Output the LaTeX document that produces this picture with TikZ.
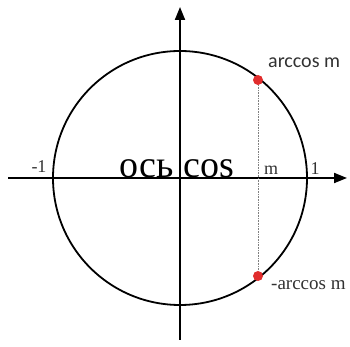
\documentclass[tikz,border=0pt]{standalone}
\usepackage{fontspec}
\setmainfont{Liberation Serif}
\newfontfamily\labsans{Carlito}
\usetikzlibrary{arrows.meta}
\definecolor{ptred}{RGB}{225,45,45}
\definecolor{labgray}{RGB}{50,50,50}
\begin{document}
\begin{tikzpicture}[x=1pt,y=1pt,
  axisline/.style={line width=1.9pt,-{Triangle[length=13pt,width=10pt]}},
  dotpt/.style={circle,fill=ptred,inner sep=0pt,minimum size=10pt},
  smalllab/.style={font=\fontsize{18}{18}\selectfont,inner sep=0pt,text=labgray}]
\useasboundingbox (0,0) rectangle (350,347);
\coordinate (O) at (180,169);
\coordinate (L) at (8,169);
\coordinate (R) at (347,169);
\coordinate (B) at (180,7);
\coordinate (T) at (180,340);
\draw[line width=1.8pt] (O) circle[radius=127];
\draw[axisline] (L) -- (R);
\draw[axisline] (B) -- (T);
\node[dotpt] (P) at (258,267) {};
\node[dotpt] (Q) at (258,71) {};
\draw[gray,densely dotted,line width=0.6pt] (P) -- (Q);
\node[font=\fontsize{38}{38}\selectfont,inner sep=0pt,anchor=base] (ax) at (177,169) {ось cos};
\node[smalllab,anchor=base] (m) at (271,172) {m};
\node[smalllab,anchor=base] (one) at (315,172) {1};
\node[smalllab,anchor=base] (mone) at (39,174) {-1};
\node[font=\labsans\fontsize{20}{20}\selectfont,inner sep=0pt,anchor=base west,text=labgray] (a1) at (268,279) {arccos m};
\node[font=\fontsize{19}{19}\selectfont,inner sep=0pt,anchor=base west,text=labgray] (a2) at (271,57) {-arccos m};
\end{tikzpicture}
\end{document}
